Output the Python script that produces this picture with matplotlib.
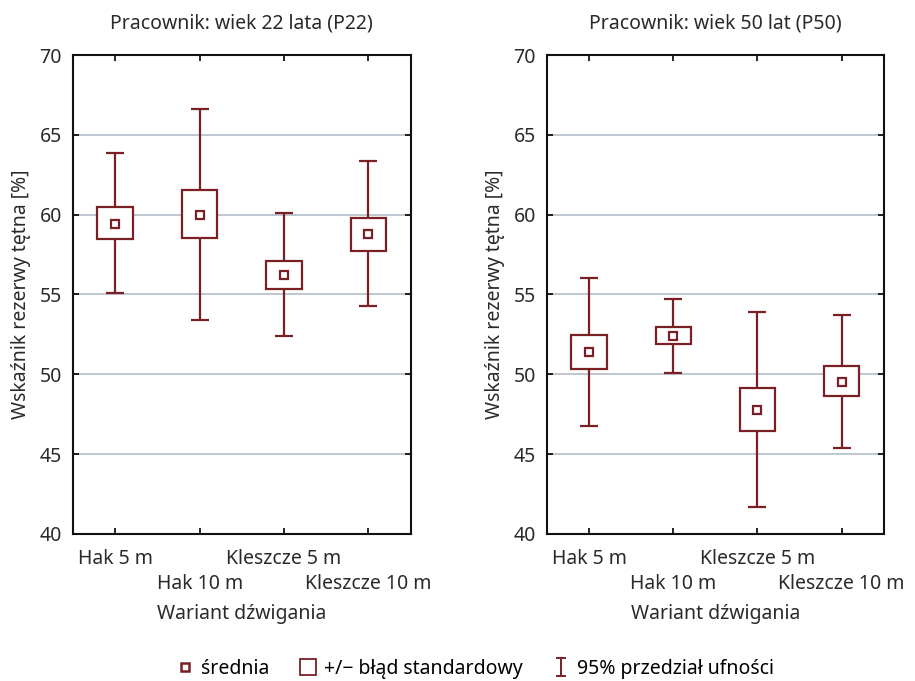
import matplotlib
matplotlib.use("Agg")
from matplotlib import pyplot as plt
from matplotlib.lines import Line2D
from matplotlib.path import Path
import numpy as np

plt.rcParams['font.family'] = ['Noto Sans', 'DejaVu Sans']

# dane
warianty = ['Hak 5 m', 'Hak 10 m', 'Kleszcze 5 m', 'Kleszcze 10 m']

# P22
srednia_22 = [59.4, 59.95, 56.2, 58.8]
se_dol_22 = [58.45, 58.55, 55.35, 57.72]
se_gora_22 = [60.45, 61.55, 57.1, 59.8]
ci_dol_22 = [55.1, 53.4, 52.4, 54.3]
ci_gora_22 = [63.85, 66.65, 60.1, 63.35]

# P50
srednia_50 = [51.4, 52.4, 47.75, 49.5]
se_dol_50 = [50.33, 51.9, 46.42, 48.66]
se_gora_50 = [52.45, 52.95, 49.15, 50.5]
ci_dol_50 = [46.75, 50.1, 41.7, 45.4]
ci_gora_50 = [56.05, 54.7, 53.9, 53.7]

tytuly = ['Pracownik: wiek 22 lata (P22)', 'Pracownik: wiek 50 lat (P50)']

kolor = '#7a2024'
siatka = '#b9c3cb'
tekst = '#2a2a2a'
fs = 14

fig = plt.figure(figsize=(9.15, 6.81), dpi=100)
ax1 = fig.add_axes([0.0798, 0.2159, 0.369, 0.7033])
ax2 = fig.add_axes([0.5978, 0.2159, 0.368, 0.7033])

dane = [
    (srednia_22, se_dol_22, se_gora_22, ci_dol_22, ci_gora_22),
    (srednia_50, se_dol_50, se_gora_50, ci_dol_50, ci_gora_50),
]

for ax, tytul, (m, sd, sg, cd, cg) in zip([ax1, ax2], tytuly, dane):
    x = np.arange(1, len(warianty) + 1)
    m = np.array(m)
    yerr = [m - np.array(cd), np.array(cg) - m]
    ax.errorbar(x, m, yerr=yerr, fmt='none', ecolor=kolor, elinewidth=1.6,
                capsize=6.5, capthick=1.6, zorder=3)
    ax.bar(x, np.array(sg) - np.array(sd), bottom=sd, width=0.42,
           facecolor='white', edgecolor=kolor, linewidth=1.6, zorder=4)
    ax.plot(x, m, linestyle='none', marker='s', markersize=5.5,
            markerfacecolor='white', markeredgecolor=kolor,
            markeredgewidth=1.6, zorder=5)

    ax.set_xlim(0.5, 4.5)
    ax.set_ylim(40, 70)
    ax.set_yticks([40, 45, 50, 55, 60, 65, 70])
    # etykiety naprzemiennie w dwóch rzędach
    ax.set_xticks(x[::2])
    ax.set_xticklabels(warianty[::2])
    ax.set_xticks(x[1::2], minor=True)
    ax.set_xticklabels(warianty[1::2], minor=True)
    ax.tick_params(labelsize=fs, labelcolor=tekst)
    ax.tick_params(axis='both', which='both', direction='in', length=4, width=1.2,
                   top=True, right=True)
    ax.tick_params(axis='x', which='major', pad=11)
    ax.tick_params(axis='x', which='minor', pad=29, labelsize=fs, labelcolor=tekst)
    ax.tick_params(axis='y', pad=8)
    ax.yaxis.grid(True, color=siatka, linewidth=1.3)
    ax.set_axisbelow(True)
    for s in ax.spines.values():
        s.set_linewidth(1.5)
        s.set_color('#111111')
    ax.set_title(tytul, fontsize=fs, color=tekst, pad=19)
    ax.set_xlabel('Wariant dźwigania', fontsize=fs, color=tekst, labelpad=7)
    ax.set_ylabel('Wskaźnik rezerwy tętna [%]', fontsize=fs, color=tekst, labelpad=6)

# legenda
ibeam = Path([(-0.5, 1), (0.5, 1), (0, 1), (0, -1), (-0.5, -1), (0.5, -1)],
             [Path.MOVETO, Path.LINETO, Path.MOVETO, Path.LINETO, Path.MOVETO, Path.LINETO])
uchwyty = [
    Line2D([], [], linestyle='none', marker='s', markersize=6, markerfacecolor='white',
           markeredgecolor=kolor, markeredgewidth=1.8),
    Line2D([], [], linestyle='none', marker='s', markersize=12, markerfacecolor='white',
           markeredgecolor=kolor, markeredgewidth=1.3),
    Line2D([], [], linestyle='none', marker=ibeam, markersize=13,
           markeredgecolor=kolor, markeredgewidth=1.4),
]
fig.legend(uchwyty, ['średnia', '+/− błąd standardowy', '95% przedział ufności'],
           loc='center', bbox_to_anchor=(0.52, 0.018), ncol=3, frameon=False,
           fontsize=fs, handlelength=0.8, handletextpad=0.4, columnspacing=1.6)

fig.savefig('out.png', dpi=100)
